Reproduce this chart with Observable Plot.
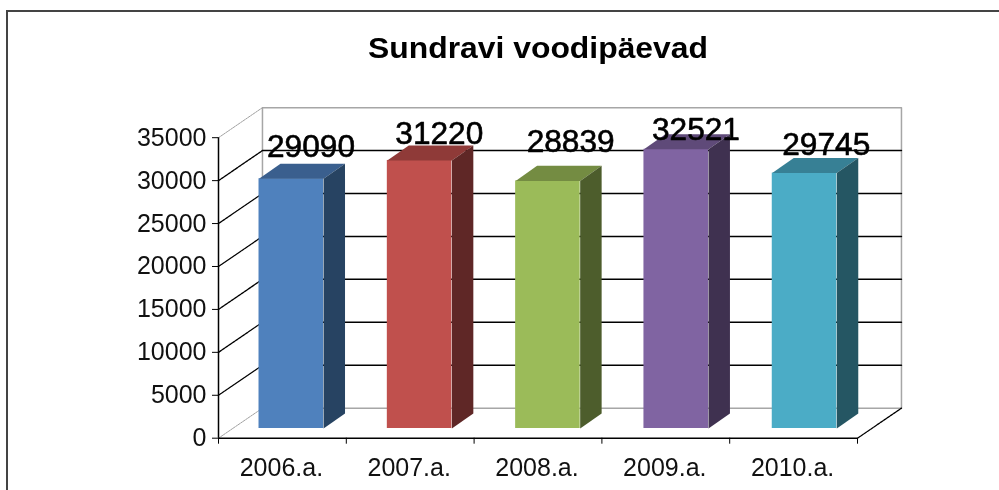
<!DOCTYPE html>
<html><head><meta charset="utf-8">
<script src="https://cdn.jsdelivr.net/npm/d3@7"></script>
<script src="https://cdn.jsdelivr.net/npm/@observablehq/plot@0.6"></script>
<style>html,body{margin:0;padding:0;background:#fff}svg{display:block;filter:blur(0.4px)}</style>
</head><body><div id="chart"></div>
<script>
const title = "Sundravi voodipäevad";
const categories = ["2006.a.","2007.a.","2008.a.","2009.a.","2010.a."];
const values = [29090,31220,28839,32521,29745];
const yTicks = [0,5000,10000,15000,20000,25000,30000,35000];
const frontColors = ["#4F81BD","#C0504D","#9BBB59","#8064A2","#4BACC6"];
const topColors = ["#3A5F8E","#8F3A38","#748C42","#5F4A79","#378095"];
const sideColors = ["#274362","#5F2726","#4D5D2C","#3F3150","#255663"];
// hand placement of the value labels, as in the source chart (pixels)
const labelNudgeX = [9,9,12,9,11];
const labelNudgeY = [1,7,-6,14,5];

// depth of the chart box and of a bar, in scale units
const wallX = 0.344, wallY = 3500;
const barX = 0.168, barY = 1750;
const barStart = 0.317, barStep = 1.004, barWidth = 0.505, baseY = 1130;

const bars = categories.map((c,i)=>{
  const x1 = barStart+i*barStep;
  return {c,i,v:values[i],x1,x2:x1+barWidth,y1:baseY,y2:baseY+values[i]};
});
const sides = bars.flatMap(b=>[[b.x2,b.y1],[b.x2+barX,b.y1+barY],[b.x2+barX,b.y2+barY],[b.x2,b.y2]].map(p=>({k:b.i,x:p[0],y:p[1]})));
const tops = bars.flatMap(b=>[[b.x1,b.y2],[b.x2,b.y2],[b.x2+barX,b.y2+barY],[b.x1+barX,b.y2+barY]].map(p=>({k:b.i,x:p[0],y:p[1]})));
const n = categories.length;
const inner = yTicks.slice(1,-1);
const diag = v=>[{k:v,x:0,y:v},{k:v,x:wallX,y:v+wallY}];
const back = v=>[{k:v,x:wallX,y:v+wallY},{k:v,x:n+wallX,y:v+wallY}];
const wallBox = [[wallX,wallY],[wallX,35000+wallY],[n+wallX,35000+wallY],[n+wallX,wallY],[wallX,wallY]].map(p=>({x:p[0],y:p[1]}));

const plot = Plot.plot({
  width:999,height:490,
  marginLeft:218,marginRight:142,marginTop:137.2,marginBottom:52.3,
  style:{background:"#fff",fontFamily:"'Liberation Sans',Arial,sans-serif",overflow:"visible"},
  x:{type:"linear",domain:[0,n],axis:null},
  y:{type:"linear",domain:[0,35000],axis:null},
  marks:[
    Plot.line(wallBox,{x:"x",y:"y",stroke:"#a6a6a6",strokeWidth:1.5}),
    Plot.line([...diag(0),...diag(35000)],{x:"x",y:"y",z:"k",stroke:"#a0a0a0",strokeWidth:1,strokeDasharray:"2 1"}),
    Plot.line(inner.flatMap(diag),{x:"x",y:"y",z:"k",stroke:"#000",strokeWidth:1.3,strokeDasharray:"3 1"}),
    Plot.line(inner.flatMap(back),{x:"x",y:"y",z:"k",stroke:"#000",strokeWidth:1.5}),
    Plot.line([{x:n,y:0},{x:n+wallX,y:wallY}],{x:"x",y:"y",stroke:"#000",strokeWidth:1.3,strokeDasharray:"3 1"}),
    Plot.rect(bars,{x1:"x1",x2:"x2",y1:"y1",y2:"y2",fill:d=>frontColors[d.i]}),
    Plot.line(tops,{x:"x",y:"y",z:"k",fill:d=>topColors[d.k],stroke:null}),
    Plot.line(sides,{x:"x",y:"y",z:"k",fill:d=>sideColors[d.k],stroke:null}),
    Plot.ruleX([0],{stroke:"#000",strokeWidth:1.5}),
    Plot.ruleY([0],{stroke:"#000",strokeWidth:1.5}),
    Plot.axisY({ticks:yTicks,tickSize:6,tickPadding:6,fontSize:25,stroke:"#000",fill:"#111",tickFormat:d=>String(d),label:null}),
    Plot.axisX({ticks:d3.range(n+1),tickSize:6,tickFormat:()=>"",label:null,stroke:"#000"}),
    Plot.text(bars,{x:d=>d.i+0.5,y:0,text:"c",dy:30,dx:-1,fontSize:25,fill:"#111"}),
    ...bars.map(b=>Plot.text([b],{x:d=>(d.x1+d.x2)/2+barX/2,y:d=>d.y2+barY,text:d=>String(d.v),dx:labelNudgeX[b.i],dy:-18+labelNudgeY[b.i],fontSize:31,fill:"#000",stroke:"#000",strokeWidth:0.6,className:"vlabel"})),
    Plot.text([title],{frameAnchor:"top",dy:-100,fontSize:29,fontWeight:"bold",fill:"#000",text:d=>d,className:"vtitle"})
  ]
});
document.getElementById("chart").append(plot);
// the source picture is stretched horizontally: stretch those texts to the same widths
plot.querySelectorAll(".vlabel text").forEach(t=>{t.setAttribute("textLength","88");t.setAttribute("lengthAdjust","spacingAndGlyphs");});
plot.querySelectorAll(".vtitle text").forEach(t=>{t.setAttribute("textLength","340");t.setAttribute("lengthAdjust","spacingAndGlyphs");});
// outer frame of the picture
const ns="http://www.w3.org/2000/svg";
const frame=document.createElementNS(ns,"path");
frame.setAttribute("d","M7 490V11H999");
frame.setAttribute("fill","none");frame.setAttribute("stroke","#444");frame.setAttribute("stroke-width","2");
plot.append(frame);
</script></body></html>
